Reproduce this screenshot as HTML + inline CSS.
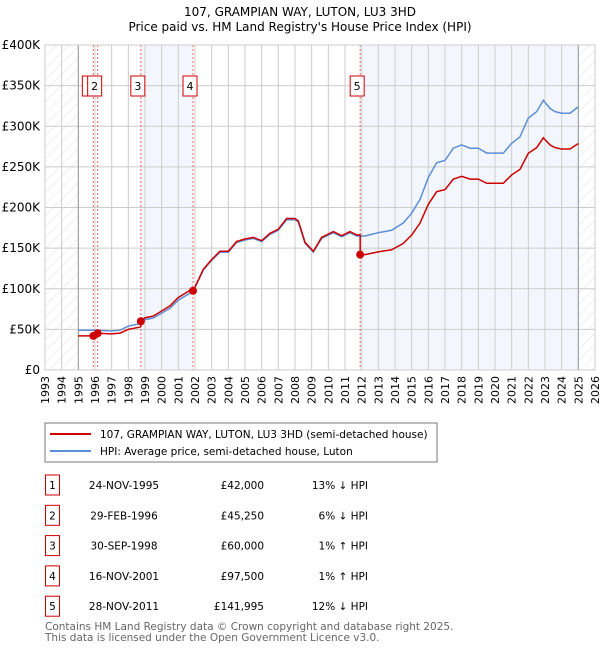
<!DOCTYPE html>
<html><head><meta charset="utf-8"><style>
body{margin:0;background:#fff;font-family:"DejaVu Sans","Liberation Sans",sans-serif;}
svg text{font-family:"DejaVu Sans","Liberation Sans",sans-serif;}
</style></head><body>
<svg id="chart" width="600" height="650" viewBox="0 0 600 650" xmlns="http://www.w3.org/2000/svg">
<defs><pattern id="hatch" width="8" height="8" patternUnits="userSpaceOnUse" patternTransform="rotate(45)"><line x1="0" y1="0" x2="0" y2="8" stroke="#d8d8d8" stroke-width="0.8"/></pattern></defs>
<text x="300" y="16" text-anchor="middle" font-size="12">107, GRAMPIAN WAY, LUTON, LU3 3HD</text>
<text x="300" y="31" text-anchor="middle" font-size="12">Price paid vs. HM Land Registry's House Price Index (HPI)</text>
<g id="plot"></g>
<rect x="45" y="423" width="392" height="39" fill="#fff" stroke="#777"/>
<line x1="50" y1="434" x2="91" y2="434" stroke="#cc0000" stroke-width="2"/>
<text x="100" y="438" font-size="10.5">107, GRAMPIAN WAY, LUTON, LU3 3HD (semi-detached house)</text>
<line x1="50" y1="451" x2="91" y2="451" stroke="#5b8ed6" stroke-width="2"/>
<text x="100" y="455" font-size="10.5">HPI: Average price, semi-detached house, Luton</text>
<g id="table"></g>
<text x="45" y="630" font-size="10.5" fill="#666">Contains HM Land Registry data © Crown copyright and database right 2025.</text>
<text x="45" y="641" font-size="10.5" fill="#666">This data is licensed under the Open Government Licence v3.0.</text>
</svg>
<script>
const hpiYears=[1995,1996,1997,1997.5,1998,1998.7,1999,1999.5,2000,2000.5,2001,2001.9,2002.5,2003,2003.5,2004,2004.5,2005,2005.5,2006,2006.5,2007,2007.5,2008,2008.2,2008.6,2009.1,2009.6,2010.3,2010.8,2011.3,2011.7,2012.2,2013,2013.8,2014.5,2015,2015.5,2016,2016.5,2017,2017.5,2018,2018.5,2019,2019.5,2020,2020.5,2021,2021.5,2022,2022.5,2022.9,2023.3,2023.6,2024,2024.5,2025];
const hpiValues=[49,49,48,49,54,57,62,64,70,76,86,97,123,135,145,145,157,160,162,158,167,172,185,185,182,156,145,162,169,164,169,165,165,169,172,181,193,210,237,255,258,273,277,273,273,267,267,267,279,287,310,318,332,322,318,316,316,324];
const saleYears=[1995.9,1996.16,1998.75,2001.88,2011.91];
const salePrices=[42,45.25,60,97.5,141.995];
const saleLabels=["1","2","3","4","5"];
const saleDates=["24-NOV-1995","29-FEB-1996","30-SEP-1998","16-NOV-2001","28-NOV-2011"];
const salePriceText=["£42,000","£45,250","£60,000","£97,500","£141,995"];
const saleHpiText=["13% ↓ HPI","6% ↓ HPI","1% ↑ HPI","1% ↑ HPI","12% ↓ HPI"];
const yTicks=[0,50,100,150,200,250,300,350,400];
const yTickLabels=["£0","£50K","£100K","£150K","£200K","£250K","£300K","£350K","£400K"];
const xStart=1993,xEnd=2026;
const X0=45,X1=595,Y0=370,Y1=45;
const xs=v=>X0+(v-xStart)/(xEnd-xStart)*(X1-X0);
const ys=v=>Y0-v/400*(Y0-Y1);
const NS="http://www.w3.org/2000/svg";
const plot=document.getElementById('plot');
function mk(tag,attrs,parent){const e=document.createElementNS(NS,tag);for(const k in attrs)e.setAttribute(k,attrs[k]);(parent||plot).appendChild(e);return e;}
let b=mk('rect',{x:xs(saleYears[2]),y:Y1,width:xs(saleYears[3])-xs(saleYears[2]),height:Y0-Y1,fill:'#eef3fc',opacity:0.7});


b=mk('rect',{x:xs(saleYears[4]),y:Y1,width:xs(2025)-xs(saleYears[4]),height:Y0-Y1,fill:'#eef3fc',opacity:0.7});


b=mk('rect',{x:X0,y:Y1,width:xs(1995)-X0,height:Y0-Y1,fill:'url(#hatch)'});


b=mk('rect',{x:xs(2025),y:Y1,width:X1-xs(2025),height:Y0-Y1,fill:'url(#hatch)'});


for(let yr=xStart;yr<=xEnd;yr++){
 const l=mk('line',{x1:xs(yr),x2:xs(yr),y1:Y1,y2:Y0,stroke:'#ccc','stroke-width':1});
 
 
 const t=mk('text',{x:0,y:0,'font-size':11,'text-anchor':'end',transform:`translate(${xs(yr)+4},${Y0+6}) rotate(-90)`});
 t.textContent=yr;
 
 
}
yTicks.forEach((v,i)=>{
 const l=mk('line',{x1:X0,x2:X1,y1:ys(v),y2:ys(v),stroke:'#ccc','stroke-width':1});
 
 
 const t=mk('text',{x:X0-5,y:ys(v)+4,'font-size':12,'text-anchor':'end'});
 t.textContent=yTickLabels[i];
 
 
});
[1995,2025].forEach(yr=>{const l=mk('line',{x1:xs(yr),x2:xs(yr),y1:Y1,y2:Y0,stroke:'#999','stroke-width':1});
 
 });
saleYears.forEach((s,i)=>{const l=mk('line',{x1:xs(s),x2:xs(s),y1:Y1,y2:Y0,stroke:'#f06060','stroke-width':1,'stroke-dasharray':'2,2'});
 
 });
function hpiAt(y){for(let i=0;i<hpiYears.length-1;i++){if(y<=hpiYears[i+1]){const t=(y-hpiYears[i])/(hpiYears[i+1]-hpiYears[i]);return hpiValues[i]+t*(hpiValues[i+1]-hpiValues[i]);}}return hpiValues[hpiValues.length-1];}
let p=mk('polyline',{points:hpiYears.map((y,i)=>xs(y)+','+ys(hpiValues[i])).join(' '),fill:'none',stroke:'#5b8ed6','stroke-width':1.5});


const ratios=saleYears.map((s,i)=>salePrices[i]/hpiAt(s));
const pts=[];
pts.push([1995,hpiAt(1995)*ratios[0]]);
for(let k=0;k<saleYears.length;k++){
 const s=saleYears[k],e=k<saleYears.length-1?saleYears[k+1]:2025;
 pts.push([s,hpiAt(s)*ratios[k]]);
 hpiYears.forEach(y=>{if(y>s&&y<e)pts.push([y,hpiAt(y)*ratios[k]]);});
 pts.push([e,hpiAt(e)*ratios[k]]);
}
pts.sort((a,b)=>a[0]-b[0]);
p=mk('polyline',{points:pts.map(q=>xs(q[0])+','+ys(q[1])).join(' '),fill:'none',stroke:'#cc0000','stroke-width':1.5});


saleYears.forEach((s,i)=>{
 const c=mk('circle',{cx:xs(s),cy:ys(salePrices[i]),r:4,fill:'#cc0000'});
 
 
 const g=mk('g',{});
 
 
 const bx=xs(s)-10+(i===0?-1:0);
 mk('rect',{x:bx,y:76,width:14,height:20,fill:'#fff',stroke:'#cc0000','stroke-width':1},g);
 const t=mk('text',{x:bx+7,y:90,'font-size':11,'text-anchor':'middle'},g);t.textContent=saleLabels[i];
});
mk('rect',{x:X0,y:Y1,width:X1-X0,height:Y0-Y1,fill:'none',stroke:'#ccc'});
const tb=document.getElementById('table');
saleYears.forEach((s,i)=>{
 const y=482+i*30.3;
 const g=mk('g',{},tb);
 
 
 mk('rect',{x:45.5,y:y-7,width:14,height:20,fill:'#fff',stroke:'#cc0000'},g);
 let t=mk('text',{x:52.5,y:y+7,'font-size':10.5,'text-anchor':'middle'},g);t.textContent=saleLabels[i];
 t=mk('text',{x:124,y:y+7,'font-size':10.5,'text-anchor':'middle'},g);t.textContent=saleDates[i];
 t=mk('text',{x:264,y:y+7,'font-size':10.5,'text-anchor':'end'},g);t.textContent=salePriceText[i];
 t=mk('text',{x:368,y:y+7,'font-size':10.5,'text-anchor':'end'},g);t.textContent=saleHpiText[i];
});
</script>
</body></html>
